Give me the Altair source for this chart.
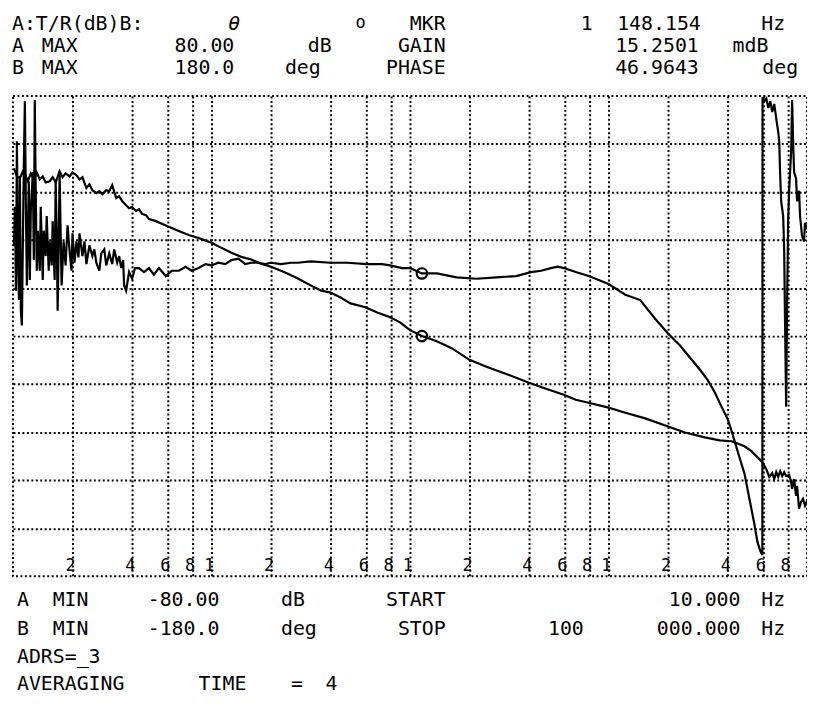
import altair as alt
import pandas as pd

# ---------------- data ----------------
gain_freq = [10.12, 10.47, 10.84, 11.22, 11.48, 11.89, 12.30, 12.74, 13.18, 13.65, 14.13, 14.62,
             15.31, 15.85, 16.41, 17.18, 17.78, 18.41, 19.28, 19.95, 20.89, 21.63, 22.39, 23.44,
             24.27, 25.12, 26.30, 27.23, 28.18, 29.51, 30.55, 31.62, 33.11, 34.28, 35.48, 37.15,
             38.46, 39.81, 41.69, 43.15, 44.67, 46.77, 48.42, 52.48, 56.23, 60.95, 68.39, 76.74,
             86.10, 100, 112.2, 125.9, 141.3, 158.5, 177.8, 199.5, 223.9, 242.7, 272.3, 316.2,
             354.8, 398.1, 446.7, 501.2, 595.7, 684.0, 794.3, 891.3, 1000, 1148.154, 1365, 1622,
             1995, 2427, 3055, 3981, 4842, 5957, 6839, 7943, 10000, 12160, 15310, 19950, 24270,
             30550, 36310, 41690, 45710, 48420, 52480, 56230, 59570, 62370, 64570, 66830, 68390,
             69980, 71610, 73280, 74990, 76740, 78520, 81280, 83180, 84140, 86100, 88100, 89130,
             91200, 93330, 95500, 97720, 100000]
gain_db = [55.9, 53.2, 52.6, 54.9, 54.2, 51.6, 54.2, 52.2, 54.5, 52.2, 53.2, 51.2,
           51.6, 52.9, 51.2, 54.9, 52.9, 54.2, 53.2, 54.5, 53.6, 52.2, 52.9, 49.3,
           50.6, 48.6, 47.6, 48.3, 47.3, 48.6, 48.3, 50.3, 46.0, 46.6, 45.0, 43.6,
           42.6, 43.0, 41.7, 42.3, 40.7, 40.3, 39.0, 38.3, 37.4, 36.4, 35.0, 33.7,
           32.7, 31.1, 29.4, 27.8, 26.4, 25.5, 24.1, 23.1, 21.8, 20.8, 19.2, 16.9,
           15.2, 14.5, 12.9, 10.9, 9.6, 7.9, 6.3, 4.6, 2.0, 0.015, -1.7, -4.0,
           -7.9, -10.2, -12.6, -15.5, -17.5, -19.5, -21.2, -22.2, -23.8, -25.5, -27.4, -30.1, -32.1,
           -33.7, -34.7, -35.0, -36.0, -36.7, -38.3, -40.3, -42.0, -44.3, -46.9, -45.6, -47.6,
           -45.3, -46.9, -45.0, -46.6, -45.3, -46.6, -46.3, -48.6, -50.9, -47.6, -53.2, -49.9,
           -57.5, -55.2, -54.2, -56.5, -54.9]

phase_freq = [10.12, 10.23, 10.35, 10.47, 10.59, 10.72, 10.84, 10.96, 11.09, 11.22, 11.35, 11.48,
              11.61, 11.75, 11.89, 12.02, 12.16, 12.30, 12.59, 12.74, 12.88, 13.03, 13.18, 13.34,
              13.65, 13.80, 14.13, 14.29, 14.62, 14.79, 15.14, 15.31, 15.67, 15.85, 16.22, 16.41,
              16.60, 16.79, 16.98, 17.18, 17.38, 17.58, 17.99, 18.41, 18.84, 19.28, 19.72, 19.95,
              20.42, 20.89, 21.38, 21.63, 22.39, 22.91, 23.44, 24.27, 25.12, 25.70, 26.30, 27.23,
              27.86, 28.84, 29.51, 30.55, 31.62, 32.36, 33.50, 34.28, 35.08, 35.89, 36.31, 37.15,
              38.46, 39.81, 41.21, 43.15, 45.71, 48.42, 51.29, 54.33, 58.88, 63.10, 68.39, 74.13,
              79.43, 86.10, 93.33, 100, 108.4, 117.5, 125.9, 136.5, 147.9, 158.5, 171.8, 186.2,
              199.5, 223.9, 251.2, 272.3, 316.2, 398.1, 483.0, 609.5, 724.4, 794.3, 912.0, 1000,
              1148.154, 1365, 1718, 2163, 2723, 3428, 4074, 4571, 5129, 5559, 5957, 6839, 7943,
              8610, 10000, 12160, 14450, 17180, 19950, 22910, 25700, 28840, 31620, 34280, 37150,
              39810, 41690, 43650, 45710, 48420, 51290, 54330, 56230, 58210, 59570, 59700, 60950,
              62370, 63830, 65310, 66830, 68390, 69980, 71610, 72440, 73280, 74130, 75860, 76740,
              77620, 78520, 79430, 80350, 81280, 83180, 84140, 85110, 86100, 88100, 89130, 91200,
              92260, 94410, 96610, 97720, 100000]
phase_deg = [68, 97, 34, 146, 64, 27, 120, 19, 8, 71, 131, 176,
             101, 38, 79, 116, 42, 94, 123, 57, 177, 105, 49, 79,
             49, 97, 42, 79, 60, 90, 49, 71, 53, 86, 42, 116,
             79, 19, 64, 123, 79, 38, 71, 53, 83, 64, 49, 77,
             55, 71, 59, 77, 60, 71, 54, 68, 60, 65, 55, 49,
             62, 65, 53, 62, 54, 65, 55, 60, 51, 57, 38, 34,
             48, 43, 51, 51, 48, 51, 46, 51, 45, 49, 49, 52,
             49, 51, 54, 53, 55, 54, 57, 58, 54, 55, 55, 54,
             55, 54, 55, 55, 56, 55, 55, 54, 54, 53, 51, 51,
             46.9643, 47, 44, 43, 44, 45, 48, 49, 51, 52, 51, 48, 45,
             43, 39, 31, 27, 13, 2, -7, -16, -25, -33, -42, -53,
             -62, -71, -81, -91, -103, -122, -141, -154, -161, -164, 179, 176,
             178, 171, 176, 168, 174, 163, 153, 146, 120, 101, 90, 64,
             4, -53, 27, 86, 109, 138, 177, 146, 123, 118, 101, 109,
             90, 75, 71, 85, 80]

marker_freq = [1148.154]
marker_gain = [0.0152501]
marker_phase = [46.9643]

grid_freq = [20, 40, 60, 80, 100, 200, 400, 600, 800, 1000, 2000, 4000, 6000, 8000,
             10000, 20000, 40000, 60000, 80000]
grid_label = ["2", "4", "6", "8", "1", "2", "4", "6", "8", "1", "2", "4", "6", "8",
              "1", "2", "4", "6", "8"]
gain_grid = [-64, -48, -32, -16, 0, 16, 32, 48, 64]

# ---------------- layout ----------------
X0, Y0 = 13, 94          # plot origin on the page
W, H = 800, 484
FONT = "DejaVu Sans Mono"
FS = 20
GRID_DASH = [2, 2.5]
GRID_W = 2

x_scale = alt.Scale(type="log", domain=[10, 100000], nice=False)
x_axis = alt.Axis(values=grid_freq, grid=True, gridColor="black", gridDash=GRID_DASH,
                  gridWidth=GRID_W, gridOpacity=1, labels=False, ticks=False, domain=False, title=None)
y_axis = alt.Axis(values=gain_grid, grid=True, gridColor="black", gridDash=GRID_DASH,
                  gridWidth=GRID_W, gridOpacity=1, labels=False, ticks=False, domain=False, title=None)
gain_scale = alt.Scale(domain=[-80, 80], nice=False, zero=False)
phase_scale = alt.Scale(domain=[-180, 180], nice=False, zero=False)

gain_df = pd.DataFrame({"f": gain_freq, "v": gain_db})
phase_df = pd.DataFrame({"f": phase_freq, "v": phase_deg})
mg_df = pd.DataFrame({"f": marker_freq, "v": marker_gain})
mp_df = pd.DataFrame({"f": marker_freq, "v": marker_phase})
lab_df = pd.DataFrame({"f": grid_freq, "t": grid_label})

gain_line = alt.Chart(gain_df).mark_line(color="black", strokeWidth=2.2, clip=True).encode(
    x=alt.X("f:Q", scale=x_scale, axis=x_axis),
    y=alt.Y("v:Q", scale=gain_scale, axis=y_axis),
)
phase_line = alt.Chart(phase_df).mark_line(color="black", strokeWidth=2.2, clip=True).encode(
    x=alt.X("f:Q", scale=x_scale, axis=x_axis),
    y=alt.Y("v:Q", scale=phase_scale, axis=None),
)
gain_mk = alt.Chart(mg_df).mark_point(shape="circle", filled=False, size=110, strokeWidth=2.2,
                                      color="black", opacity=1).encode(
    x=alt.X("f:Q", scale=x_scale, axis=x_axis),
    y=alt.Y("v:Q", scale=gain_scale, axis=None),
)
phase_mk = alt.Chart(mp_df).mark_point(shape="circle", filled=False, size=110, strokeWidth=2.2,
                                       color="black", opacity=1).encode(
    x=alt.X("f:Q", scale=x_scale, axis=x_axis),
    y=alt.Y("v:Q", scale=phase_scale, axis=None),
)
tick_labels = alt.Chart(lab_df).mark_text(align="right", baseline="alphabetic", font=FONT,
                                          fontSize=17, color="black", dx=3).encode(
    x=alt.X("f:Q", scale=x_scale, axis=x_axis),
    y=alt.value(479),
    text="t:N",
)


def txt(s, x, y, align="left", size=FS, style="normal"):
    return alt.Chart(alt.Data(values=[{"t": s}])).mark_text(
        align=align, baseline="alphabetic", font=FONT, fontSize=size, fontStyle=style,
        color="black").encode(x=alt.value(x - X0), y=alt.value(y - Y0), text="t:N")


texts = [
    txt("A:T/R(dB)B:", 12, 28), txt("θ", 230, 28, style="italic"),
    txt("o", 358, 26, size=17), txt("MKR", 449, 28, "right"),
    txt("1", 585, 28), txt("148.154", 706, 28, "right"), txt("Hz", 767, 28),
    txt("A", 12, 50), txt("MAX", 42, 50), txt("80.00", 236, 50, "right"), txt("dB", 310, 50),
    txt("GAIN", 449, 50, "right"), txt("15.2501", 704, 50, "right"), txt("mdB", 738, 50),
    txt("B", 12, 72), txt("MAX", 42, 72), txt("180.0", 236, 72, "right"), txt("deg", 287, 72),
    txt("PHASE", 449, 72, "right"), txt("46.9643", 704, 72, "right"), txt("deg", 768, 72),
    txt("A", 17, 608), txt("MIN", 53, 608), txt("-80.00", 221, 608, "right"), txt("dB", 283, 608),
    txt("START", 449, 608, "right"), txt("10.000", 746, 608, "right"), txt("Hz", 767, 608),
    txt("B", 17, 637), txt("MIN", 53, 637), txt("-180.0", 221, 637, "right"), txt("deg", 283, 637),
    txt("STOP", 449, 637, "right"), txt("100", 552, 637), txt("000.000", 746, 637, "right"),
    txt("Hz", 767, 637),
    txt("ADRS=_3", 17, 665),
    txt("AVERAGING", 17, 693), txt("TIME", 200, 693), txt("=", 293, 693), txt("4", 328, 693),
]

chart = alt.layer(gain_line, phase_line, gain_mk, phase_mk, tick_labels, *texts).resolve_scale(
    y="independent"
).properties(
    width=W, height=H,
    autosize=alt.AutoSizeParams(type="none"),
    padding={"left": X0 - 8, "top": Y0 - 8, "right": 0, "bottom": 120},
    background="white",
).configure_view(
    stroke="black", strokeDash=GRID_DASH, strokeWidth=GRID_W
)

chart.save("out.html", embed_options={"renderer": "svg", "actions": False})
